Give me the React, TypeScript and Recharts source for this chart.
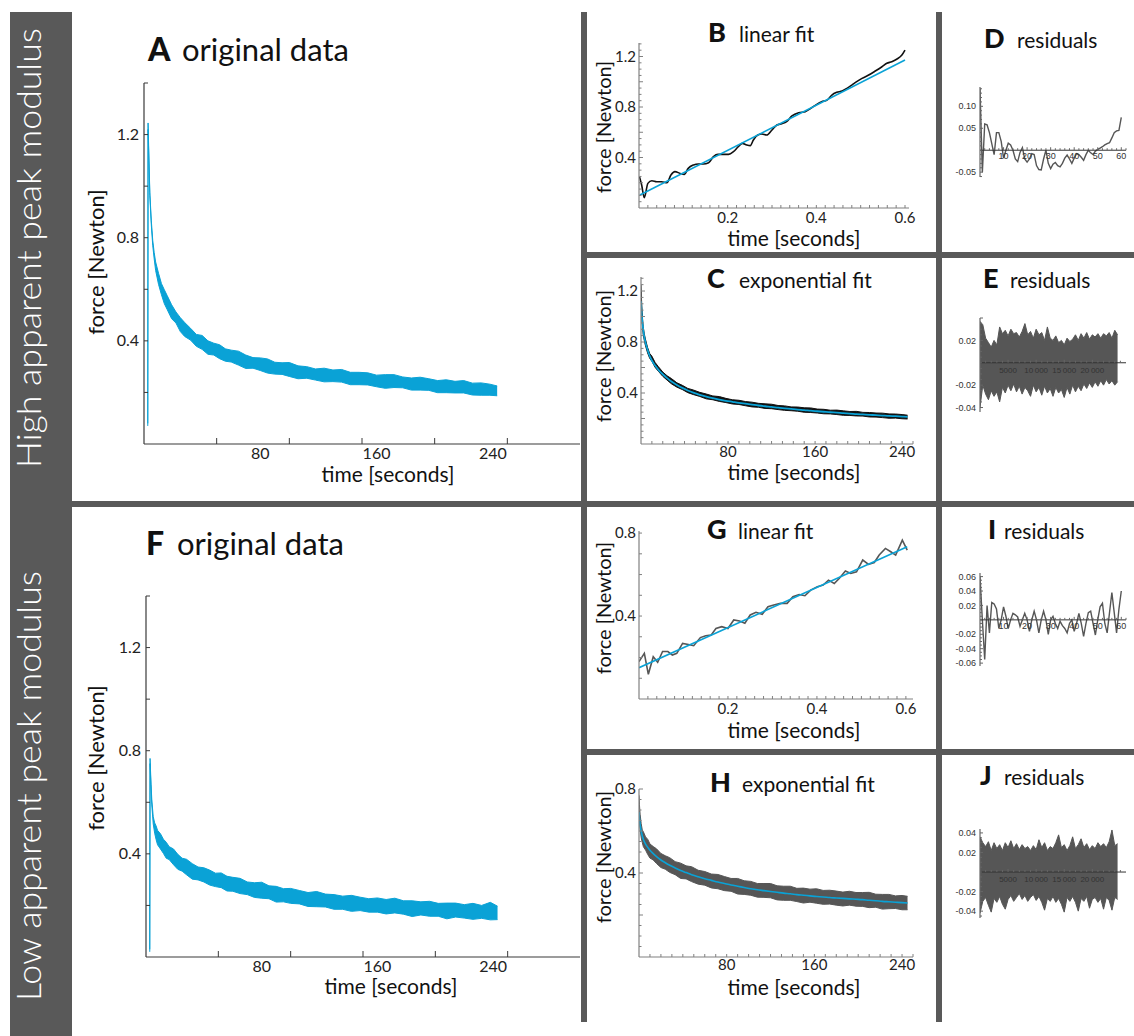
import React from 'react';
import { ComposedChart, Line, Area, XAxis, YAxis, ReferenceLine } from 'recharts';

const CYAN = '#0aa2d6';
const FRAME = '#595959';
const GREY = '#565656';
const INK = '#111';
const FONT = 'Lato, "Open Sans", sans-serif';
const SMALL = '"Liberation Sans", Arial, sans-serif';

// ---------- original data (A, F): trace centre and noise envelope above / below it ----------
const origT = [2.6, 2.8, 3.5, 4, 5, 6, 7, 8, 10, 12, 14, 16, 19, 22, 25, 28, 32, 36, 40, 44, 48, 52, 56, 60, 65, 70, 75, 80, 85, 90, 95, 100, 106, 112, 118, 124, 130, 136, 142, 148, 154, 160, 166, 172, 178, 184, 190, 196, 202, 208, 214, 220, 226, 232, 238, 243];
const aMid = [0.075, 1.235, 1.08, 0.97, 0.86, 0.78, 0.73, 0.69, 0.64, 0.60, 0.57, 0.545, 0.515, 0.49, 0.46, 0.445, 0.425, 0.405, 0.39, 0.378, 0.366, 0.356, 0.348, 0.34, 0.33, 0.322, 0.315, 0.308, 0.302, 0.296, 0.29, 0.286, 0.281, 0.276, 0.271, 0.267, 0.264, 0.26, 0.257, 0.254, 0.25, 0.247, 0.244, 0.241, 0.238, 0.235, 0.232, 0.229, 0.226, 0.223, 0.22, 0.218, 0.215, 0.212, 0.21, 0.205];
const aUp = [0.005, 0.01, 0.006, 0.006, 0.008, 0.01, 0.013, 0.016, 0.022, 0.022, 0.028, 0.03, 0.025, 0.022, 0.03, 0.026, 0.024, 0.02, 0.031, 0.022, 0.025, 0.029, 0.021, 0.024, 0.03, 0.023, 0.02, 0.026, 0.028, 0.021, 0.025, 0.03, 0.022, 0.024, 0.02, 0.027, 0.023, 0.029, 0.021, 0.024, 0.026, 0.02, 0.025, 0.028, 0.022, 0.021, 0.027, 0.024, 0.02, 0.026, 0.023, 0.028, 0.021, 0.025, 0.022, 0.02];
const aDown = [0.005, 0.015, 0.006, 0.006, 0.008, 0.01, 0.012, 0.017, 0.021, 0.021, 0.026, 0.024, 0.029, 0.021, 0.024, 0.028, 0.022, 0.026, 0.023, 0.03, 0.021, 0.025, 0.027, 0.022, 0.024, 0.029, 0.021, 0.023, 0.027, 0.025, 0.02, 0.024, 0.028, 0.021, 0.023, 0.026, 0.022, 0.02, 0.027, 0.024, 0.021, 0.025, 0.028, 0.022, 0.02, 0.026, 0.023, 0.021, 0.027, 0.024, 0.022, 0.02, 0.025, 0.023, 0.021, 0.018];
const fMid = [0.025, 0.76, 0.66, 0.6, 0.53, 0.50, 0.48, 0.465, 0.445, 0.43, 0.415, 0.403, 0.385, 0.37, 0.357, 0.347, 0.335, 0.325, 0.316, 0.308, 0.3, 0.293, 0.287, 0.281, 0.274, 0.267, 0.261, 0.255, 0.25, 0.245, 0.24, 0.236, 0.231, 0.226, 0.222, 0.218, 0.214, 0.211, 0.208, 0.205, 0.202, 0.2, 0.197, 0.195, 0.193, 0.19, 0.188, 0.186, 0.184, 0.182, 0.18, 0.178, 0.176, 0.174, 0.172, 0.17];
const fUp = [0.005, 0.01, 0.008, 0.01, 0.014, 0.02, 0.028, 0.026, 0.033, 0.027, 0.03, 0.025, 0.034, 0.028, 0.026, 0.032, 0.027, 0.024, 0.03, 0.029, 0.025, 0.033, 0.026, 0.028, 0.031, 0.024, 0.027, 0.035, 0.026, 0.029, 0.025, 0.03, 0.027, 0.024, 0.032, 0.026, 0.028, 0.025, 0.031, 0.027, 0.024, 0.029, 0.026, 0.033, 0.025, 0.028, 0.026, 0.03, 0.024, 0.027, 0.029, 0.025, 0.032, 0.026, 0.04, 0.027];
const fDown = [0.005, 0.01, 0.008, 0.01, 0.014, 0.02, 0.025, 0.03, 0.026, 0.028, 0.032, 0.025, 0.027, 0.03, 0.024, 0.028, 0.033, 0.026, 0.025, 0.029, 0.027, 0.024, 0.031, 0.026, 0.028, 0.025, 0.03, 0.027, 0.024, 0.032, 0.026, 0.028, 0.025, 0.03, 0.027, 0.024, 0.029, 0.026, 0.031, 0.025, 0.028, 0.026, 0.03, 0.024, 0.027, 0.033, 0.025, 0.028, 0.026, 0.034, 0.025, 0.027, 0.03, 0.024, 0.028, 0.025];

// ---------- exponential fit panels (C, H) ----------
const fitT = [0, 0.4, 1, 2, 3, 4, 6, 8, 10, 13, 16, 20, 24, 28, 33, 38, 43, 48, 54, 60, 66, 72, 78, 84, 90, 96, 102, 108, 114, 120, 126, 132, 138, 144, 150, 156, 162, 168, 174, 180, 186, 192, 198, 204, 210, 216, 222, 228, 234, 240, 245];
const cMid = [1.225, 1.12, 1.0, 0.89, 0.84, 0.8, 0.736, 0.69, 0.665, 0.62, 0.585, 0.548, 0.515, 0.49, 0.462, 0.44, 0.42, 0.403, 0.387, 0.372, 0.36, 0.35, 0.34, 0.331, 0.323, 0.315, 0.307, 0.302, 0.296, 0.29, 0.285, 0.28, 0.275, 0.27, 0.266, 0.262, 0.257, 0.253, 0.249, 0.246, 0.242, 0.238, 0.235, 0.232, 0.228, 0.225, 0.222, 0.219, 0.216, 0.213, 0.21];
const cUp = [0.025, 0.03, 0.03, 0.03, 0.025, 0.025, 0.022, 0.02, 0.024, 0.019, 0.021, 0.017, 0.02, 0.023, 0.018, 0.02, 0.016, 0.021, 0.018, 0.02, 0.017, 0.022, 0.018, 0.016, 0.02, 0.018, 0.021, 0.017, 0.019, 0.022, 0.017, 0.019, 0.016, 0.02, 0.018, 0.021, 0.017, 0.019, 0.016, 0.02, 0.018, 0.017, 0.021, 0.016, 0.019, 0.018, 0.02, 0.017, 0.019, 0.018, 0.016];
const cDown = [0.025, 0.03, 0.03, 0.03, 0.025, 0.025, 0.02, 0.018, 0.016, 0.019, 0.015, 0.017, 0.014, 0.018, 0.016, 0.013, 0.017, 0.015, 0.014, 0.018, 0.013, 0.016, 0.015, 0.017, 0.013, 0.015, 0.016, 0.014, 0.017, 0.013, 0.015, 0.016, 0.014, 0.013, 0.017, 0.015, 0.014, 0.016, 0.013, 0.015, 0.017, 0.014, 0.015, 0.013, 0.016, 0.014, 0.015, 0.017, 0.013, 0.015, 0.014];
const cFit = [1.12, 1.05, 0.98, 0.9, 0.84, 0.8, 0.74, 0.69, 0.655, 0.615, 0.582, 0.547, 0.517, 0.49, 0.463, 0.44, 0.42, 0.403, 0.386, 0.372, 0.36, 0.349, 0.339, 0.331, 0.323, 0.316, 0.309, 0.302, 0.296, 0.291, 0.285, 0.28, 0.275, 0.27, 0.266, 0.261, 0.257, 0.253, 0.249, 0.246, 0.242, 0.239, 0.235, 0.232, 0.229, 0.226, 0.223, 0.22, 0.218, 0.215, 0.213];
const hMid = [0.72, 0.68, 0.64, 0.6, 0.575, 0.56, 0.54, 0.522, 0.508, 0.492, 0.478, 0.462, 0.449, 0.437, 0.424, 0.412, 0.402, 0.392, 0.382, 0.373, 0.365, 0.357, 0.35, 0.343, 0.337, 0.331, 0.325, 0.32, 0.316, 0.312, 0.308, 0.304, 0.301, 0.297, 0.294, 0.291, 0.288, 0.286, 0.283, 0.281, 0.279, 0.277, 0.275, 0.273, 0.27, 0.268, 0.265, 0.263, 0.261, 0.259, 0.257];
const hUp = [0.05, 0.045, 0.04, 0.035, 0.03, 0.036, 0.032, 0.038, 0.03, 0.034, 0.037, 0.031, 0.033, 0.036, 0.03, 0.035, 0.032, 0.038, 0.031, 0.034, 0.03, 0.036, 0.033, 0.031, 0.037, 0.032, 0.035, 0.03, 0.034, 0.038, 0.031, 0.033, 0.036, 0.03, 0.034, 0.032, 0.037, 0.031, 0.035, 0.033, 0.03, 0.036, 0.032, 0.034, 0.038, 0.031, 0.033, 0.035, 0.03, 0.034, 0.032];
const hDown = [0.02, 0.025, 0.03, 0.032, 0.03, 0.035, 0.031, 0.034, 0.037, 0.03, 0.033, 0.036, 0.031, 0.034, 0.032, 0.038, 0.03, 0.033, 0.035, 0.031, 0.036, 0.032, 0.034, 0.03, 0.037, 0.033, 0.031, 0.035, 0.032, 0.03, 0.036, 0.034, 0.031, 0.033, 0.037, 0.03, 0.032, 0.035, 0.031, 0.034, 0.036, 0.03, 0.033, 0.032, 0.035, 0.031, 0.037, 0.033, 0.03, 0.034, 0.032];
const hFit = [0.69, 0.66, 0.63, 0.6, 0.576, 0.56, 0.538, 0.522, 0.508, 0.492, 0.478, 0.462, 0.449, 0.437, 0.424, 0.412, 0.402, 0.392, 0.382, 0.373, 0.365, 0.357, 0.35, 0.343, 0.337, 0.331, 0.325, 0.32, 0.316, 0.312, 0.308, 0.304, 0.301, 0.297, 0.294, 0.291, 0.288, 0.286, 0.283, 0.281, 0.279, 0.277, 0.275, 0.273, 0.27, 0.268, 0.265, 0.263, 0.261, 0.259, 0.257];

// ---------- linear fit panels (B, G) ----------
const bT = [0.001, 0.006, 0.012, 0.02, 0.029, 0.04, 0.051, 0.063, 0.072, 0.081, 0.093, 0.102, 0.111, 0.123, 0.134, 0.145, 0.157, 0.168, 0.178, 0.19, 0.202, 0.213, 0.224, 0.233, 0.243, 0.251, 0.258, 0.268, 0.277, 0.288, 0.3, 0.311, 0.322, 0.333, 0.345, 0.36, 0.375, 0.39, 0.401, 0.412, 0.424, 0.435, 0.446, 0.458, 0.469, 0.48, 0.491, 0.503, 0.518, 0.533, 0.548, 0.559, 0.57, 0.582, 0.593, 0.6];
const bForce = [0.248, 0.182, 0.082, 0.195, 0.216, 0.208, 0.208, 0.2, 0.261, 0.288, 0.274, 0.266, 0.314, 0.341, 0.349, 0.349, 0.359, 0.407, 0.425, 0.425, 0.425, 0.446, 0.486, 0.512, 0.499, 0.494, 0.539, 0.578, 0.586, 0.578, 0.618, 0.657, 0.668, 0.684, 0.729, 0.755, 0.763, 0.795, 0.821, 0.842, 0.855, 0.895, 0.916, 0.927, 0.948, 0.974, 1.001, 1.027, 1.053, 1.085, 1.119, 1.146, 1.159, 1.18, 1.212, 1.251];
const bFitT = [0.002, 0.6];
const bFit = [0.103, 1.172];
const gT = [0, 0.012, 0.021, 0.032, 0.042, 0.053, 0.065, 0.075, 0.085, 0.098, 0.111, 0.123, 0.138, 0.15, 0.162, 0.173, 0.186, 0.2, 0.213, 0.226, 0.238, 0.25, 0.263, 0.277, 0.29, 0.303, 0.318, 0.333, 0.346, 0.36, 0.373, 0.386, 0.401, 0.414, 0.426, 0.439, 0.45, 0.464, 0.476, 0.489, 0.503, 0.516, 0.529, 0.54, 0.554, 0.566, 0.577, 0.592, 0.603];
const gForce = [0.18, 0.22, 0.119, 0.204, 0.177, 0.229, 0.229, 0.212, 0.22, 0.268, 0.263, 0.257, 0.296, 0.305, 0.308, 0.34, 0.349, 0.34, 0.381, 0.376, 0.365, 0.405, 0.418, 0.408, 0.445, 0.453, 0.461, 0.461, 0.493, 0.504, 0.498, 0.525, 0.541, 0.549, 0.573, 0.557, 0.581, 0.617, 0.605, 0.613, 0.67, 0.649, 0.658, 0.694, 0.726, 0.71, 0.694, 0.766, 0.718];
const gFitT = [0, 0.603];
const gFit = [0.151, 0.734];

// ---------- residuals of the linear fits (D, I) ----------
const residT = [0, 1, 2, 3, 4, 5, 6, 7, 8, 9, 10, 11, 12, 13, 14, 15, 16, 17, 18, 19, 20, 21, 22, 23, 24, 25, 26, 27, 28, 29, 30, 31, 32, 33, 34, 35, 36, 37, 38, 39, 40, 41, 42, 43, 44, 45, 46, 47, 48, 49, 50, 51, 52, 53, 54, 55, 56, 57, 58, 59, 60];
const dRes = [0.14, -0.05, 0.06, 0.058, 0.04, 0.015, -0.01, 0.04, 0.04, 0.02, -0.018, 0.0, 0.016, 0.012, 0.0, -0.02, -0.026, -0.005, 0.006, -0.02, -0.027, -0.02, -0.008, -0.01, -0.035, -0.044, -0.045, -0.02, 0.0, -0.03, -0.042, -0.032, -0.028, -0.035, -0.038, -0.03, -0.018, -0.011, -0.02, -0.03, -0.018, -0.008, -0.01, -0.016, -0.023, -0.01, 0.0, -0.006, -0.01, -0.002, 0.002, 0.005, 0.008, 0.012, 0.015, 0.017, 0.028, 0.04, 0.044, 0.045, 0.075];
const iRes = [0.06, 0.0, -0.055, 0.02, -0.018, 0.024, 0.022, 0.015, -0.012, 0.0, 0.018, 0.005, -0.012, 0.0, 0.009, 0.007, 0.004, -0.009, 0.0, 0.009, 0.0, -0.016, 0.0, 0.012, 0.0, -0.018, 0.0, 0.012, 0.0, -0.02, 0.0, 0.005, -0.005, -0.012, -0.002, -0.008, -0.012, -0.018, -0.005, 0.0, -0.016, -0.005, 0.009, -0.005, -0.023, -0.005, 0.01, 0.012, -0.005, -0.021, 0.0, 0.018, 0.023, -0.005, -0.018, 0.01, 0.038, 0.01, -0.018, 0.015, 0.04];

// ---------- residuals of the exponential fits (E, J), envelope per sample block ----------
const sampleIdx = [0, 500, 1000, 1500, 2000, 2500, 3000, 3500, 4000, 4500, 5000, 5500, 6000, 6500, 7000, 7500, 8000, 8500, 9000, 9500, 10000, 10500, 11000, 11500, 12000, 12500, 13000, 13500, 14000, 14500, 15000, 15500, 16000, 16500, 17000, 17500, 18000, 18500, 19000, 19500, 20000, 20500, 21000, 21500, 22000, 22500, 23000, 23500, 24000, 24500];
const eHi = [0.037, 0.034, 0.022, 0.018, 0.014, 0.02, 0.016, 0.032, 0.026, 0.029, 0.024, 0.03, 0.026, 0.027, 0.023, 0.028, 0.035, 0.025, 0.028, 0.022, 0.03, 0.025, 0.027, 0.02, 0.032, 0.022, 0.02, 0.024, 0.018, 0.02, 0.016, 0.022, 0.019, 0.021, 0.025, 0.02, 0.026, 0.022, 0.027, 0.021, 0.025, 0.023, 0.026, 0.022, 0.026, 0.024, 0.027, 0.022, 0.029, 0.025];
const eLo = [-0.04, -0.02, -0.028, -0.033, -0.025, -0.03, -0.026, -0.035, -0.022, -0.027, -0.02, -0.025, -0.019, -0.026, -0.021, -0.028, -0.022, -0.025, -0.03, -0.02, -0.026, -0.022, -0.029, -0.021, -0.027, -0.023, -0.03, -0.022, -0.027, -0.024, -0.031, -0.022, -0.028, -0.02, -0.026, -0.021, -0.025, -0.019, -0.023, -0.018, -0.022, -0.017, -0.021, -0.016, -0.02, -0.015, -0.019, -0.016, -0.02, -0.017];
const jHi = [0.036, 0.03, 0.026, 0.031, 0.022, 0.03, 0.024, 0.028, 0.022, 0.03, 0.025, 0.032, 0.024, 0.029, 0.023, 0.028, 0.024, 0.026, 0.022, 0.027, 0.023, 0.033, 0.025, 0.03, 0.022, 0.026, 0.024, 0.03, 0.038, 0.025, 0.028, 0.022, 0.027, 0.036, 0.024, 0.028, 0.034, 0.025, 0.029, 0.023, 0.027, 0.024, 0.03, 0.026, 0.029, 0.025, 0.031, 0.043, 0.027, 0.029];
const jLo = [-0.042, -0.03, -0.026, -0.034, -0.041, -0.027, -0.031, -0.025, -0.033, -0.038, -0.028, -0.024, -0.03, -0.026, -0.022, -0.028, -0.024, -0.03, -0.026, -0.023, -0.029, -0.025, -0.031, -0.039, -0.027, -0.03, -0.025, -0.031, -0.027, -0.033, -0.041, -0.026, -0.03, -0.025, -0.031, -0.04, -0.027, -0.03, -0.025, -0.037, -0.028, -0.026, -0.031, -0.027, -0.038, -0.026, -0.029, -0.039, -0.026, -0.028];

// tick labels
const secLabels = [80, 160, 240];
const linLabels = [0.2, 0.4, 0.6];
const forceLabels = [0.4, 0.8, 1.2];
const lowForceLabels = [0.4, 0.8];
const indexLabels = [10, 20, 30, 40, 50, 60];
const sampleLabels = [5000, 10000, 15000, 20000];

const lineRows = (ts: number[], vs: number[]) => ts.map((t, i) => ({ t, v: vs[i] }));
const bandRows = (ts: number[], lo: number[], hi: number[]) => ts.map((t, i) => ({ t, band: [lo[i], hi[i]] }));
const envRows = (ts: number[], mid: number[], up: number[], down: number[]) =>
  ts.map((t, i) => ({ t, band: [mid[i] - down[i], mid[i] + up[i]] }));

const steps = (from: number, to: number, step: number) => {
  const out: number[] = [];
  for (let i = 0; from + i * step <= to + step / 1000; i++) out.push(+(from + i * step).toFixed(6));
  return out;
};
const has = (arr: number[] | undefined, v: number) => !!arr && arr.some((a) => Math.abs(a - v) < 1e-7);

type AxisSpec = {
  marks: number[];
  majors?: number[];
  labels: number[];
  fmt: (v: number) => string;
  len: number;
  majorLen?: number;
  font: number;
  off: number;
  family: string;
  color: string;
  ink: string;
};

const tickList = (s: AxisSpec) => Array.from(new Set([...s.marks, ...s.labels])).sort((a, b) => a - b);

const bottomTick = (s: AxisSpec, shift: number) => (p: any) => {
  const v = p.payload.value;
  const y0 = p.y - shift;
  const L = has(s.majors, v) ? s.majorLen ?? s.len : s.len;
  return (
    <g>
      {has(s.marks, v) && <line x1={p.x} x2={p.x} y1={y0} y2={y0 - L} stroke={s.color} strokeWidth={1} />}
      {has(s.labels, v) && (
        <text x={p.x} y={y0 + s.off} textAnchor="middle" fontSize={s.font} fontFamily={s.family} fill={s.ink}>
          {s.fmt(v)}
        </text>
      )}
    </g>
  );
};

const leftTick = (s: AxisSpec) => (p: any) => {
  const v = p.payload.value;
  const L = has(s.majors, v) ? s.majorLen ?? s.len : s.len;
  return (
    <g>
      {has(s.marks, v) && <line x1={p.x} x2={p.x + L} y1={p.y} y2={p.y} stroke={s.color} strokeWidth={1} />}
      {has(s.labels, v) && (
        <text x={p.x - s.off} y={p.y + s.font * 0.35} textAnchor="end" fontSize={s.font} fontFamily={s.family} fill={s.ink}>
          {s.fmt(v)}
        </text>
      )}
    </g>
  );
};

const one = (v: number) => v.toFixed(1);
const two = (v: number) => (v < 0 ? '-' : '') + Math.abs(v).toFixed(2);
const big = (v: number) => (v >= 10000 ? String(v).slice(0, 2) + '\u2009' + String(v).slice(2) : String(v));

const AX_DARK = '#3a3a3a';
const AX_MID = '#808080';

const origX: AxisSpec = { marks: [50, 100, 150, 200, 250], labels: secLabels, fmt: String, len: 6, font: 16, off: 15, family: FONT, color: AX_DARK, ink: '#222' };
const origY: AxisSpec = { marks: steps(0.2, 1.4, 0.2), labels: forceLabels, fmt: one, len: 4, font: 16, off: 5, family: FONT, color: AX_DARK, ink: '#222' };
const linX: AxisSpec = { marks: steps(0.02, 0.6, 0.02), labels: linLabels, fmt: one, len: 3, font: 15, off: 15, family: FONT, color: AX_MID, ink: '#222' };
const bY: AxisSpec = { marks: steps(0.05, 1.3, 0.05), majors: steps(0.2, 1.2, 0.2), labels: forceLabels, fmt: one, len: 2.5, majorLen: 4, font: 15, off: 3, family: FONT, color: AX_MID, ink: '#222' };
const secX: AxisSpec = { marks: steps(10, 250, 10), labels: secLabels, fmt: String, len: 3, font: 15, off: 13, family: FONT, color: AX_MID, ink: '#222' };
const gY: AxisSpec = { marks: steps(0.1, 0.8, 0.1), labels: lowForceLabels, fmt: one, len: 3, font: 15, off: 3, family: FONT, color: AX_MID, ink: '#222' };
const hY: AxisSpec = { marks: steps(0.05, 0.8, 0.05), majors: steps(0.2, 0.8, 0.2), labels: lowForceLabels, fmt: one, len: 2.5, majorLen: 4, font: 15, off: 3, family: FONT, color: AX_MID, ink: '#222' };
const idxX: AxisSpec = { marks: steps(2, 62, 2), majors: indexLabels, labels: indexLabels, fmt: String, len: 2, majorLen: 3, font: 9, off: 9, family: SMALL, color: '#666', ink: '#333' };
const dY: AxisSpec = { marks: steps(-0.06, 0.14, 0.01), majors: [-0.05, 0.05, 0.1], labels: [-0.05, 0.05, 0.1], fmt: two, len: 2, majorLen: 3, font: 9, off: 4, family: SMALL, color: '#666', ink: '#333' };
const smpX: AxisSpec = { marks: steps(1000, 25000, 1000), majors: sampleLabels, labels: sampleLabels, fmt: big, len: 2, majorLen: 3, font: 8, off: 10, family: SMALL, color: '#666', ink: '#333' };
const eY: AxisSpec = { marks: steps(-0.04, 0.04, 0.005), majors: [-0.04, -0.02, 0.02, 0.04], labels: [0.02, -0.02, -0.04], fmt: two, len: 2, majorLen: 3, font: 9, off: 4, family: SMALL, color: '#666', ink: '#333' };
const iY: AxisSpec = { marks: steps(-0.06, 0.06, 0.005), majors: [-0.06, -0.04, -0.02, 0.02, 0.04, 0.06], labels: [-0.06, -0.04, -0.02, 0.02, 0.04, 0.06], fmt: two, len: 2, majorLen: 3, font: 9, off: 4, family: SMALL, color: '#666', ink: '#333' };
const jY: AxisSpec = { marks: steps(-0.045, 0.04, 0.005), majors: [-0.04, -0.02, 0.02, 0.04], labels: [0.04, 0.02, -0.02, -0.04], fmt: two, len: 2, majorLen: 3, font: 9, off: 4, family: SMALL, color: '#666', ink: '#333' };

type Box = { x: number; y: number; w: number; h: number };
const PAD = 44;
const AXW = 30;

const Panel = ({ box, xDom, yDom, xs, ys, mid, children }: { box: Box; xDom: number[]; yDom: number[]; xs: AxisSpec; ys: AxisSpec; mid?: boolean; children: React.ReactNode }) => {
  const shift = mid ? (box.h * (0 - yDom[0])) / (yDom[1] - yDom[0]) : 0;
  return (
    <div style={{ position: 'absolute', left: box.x - PAD, top: box.y - PAD }}>
      <ComposedChart width={box.w + 2 * PAD} height={box.h + 2 * PAD} margin={{ top: PAD, right: PAD, bottom: PAD - AXW, left: PAD - AXW }}>
        <XAxis dataKey="t" type="number" domain={xDom} allowDataOverflow ticks={tickList(xs)} interval={0} height={AXW} tickSize={0} tickMargin={0} tickLine={false} axisLine={mid ? false : { stroke: xs.color, strokeWidth: 1.2 }} tick={bottomTick(xs, shift)} />
        <YAxis type="number" domain={yDom} allowDataOverflow ticks={tickList(ys)} interval={0} width={AXW} tickSize={0} tickMargin={0} tickLine={false} axisLine={{ stroke: ys.color, strokeWidth: 1.2 }} tick={leftTick(ys)} />
        {children}
        {mid && <ReferenceLine y={0} stroke="#333" strokeWidth={1} />}
      </ComposedChart>
    </div>
  );
};

const Band = ({ rows, color }: { rows: any[]; color: string }) => (
  <Area data={rows} dataKey="band" type="linear" stroke={color} strokeWidth={1} fill={color} fillOpacity={1} dot={false} activeDot={false} isAnimationActive={false} />
);
const Trace = ({ rows, color, w, smooth }: { rows: any[]; color: string; w: number; smooth?: boolean }) => (
  <Line data={rows} dataKey="v" type={smooth ? 'monotone' : 'linear'} stroke={color} strokeWidth={w} dot={false} activeDot={false} isAnimationActive={false} />
);

const Title = ({ x, tx, y, letter, text, big: large }: { x: number; tx: number; y: number; letter: string; text: string; big?: boolean }) => (
  <g fontFamily={FONT} fill="#111">
    <text x={x} y={y} fontSize={large ? 32 : 27} fontWeight={900}>{letter}</text>
    <text x={tx} y={y} fontSize={large ? 31 : 21}>{text}</text>
  </g>
);
const YTitle = ({ x, y, size }: { x: number; y: number; size: number }) => (
  <text x={x} y={y} transform={`rotate(-90 ${x} ${y})`} textAnchor="middle" fontFamily={FONT} fontSize={size} fill="#111">force [Newton]</text>
);
const XTitle = ({ x, y, size }: { x: number; y: number; size: number }) => (
  <text x={x} y={y} textAnchor="middle" fontFamily={FONT} fontSize={size} fill="#111">time [seconds]</text>
);

const App = () => (
  <div style={{ position: 'absolute', left: 0, top: 0, width: 1134, height: 1036, background: '#fff', overflow: 'hidden' }}>
    {/* A */}
    <Panel box={{ x: 144, y: 83, w: 436, h: 361 }} xDom={[0, 300]} yDom={[0, 1.4]} xs={origX} ys={origY}>
      <Band rows={envRows(origT, aMid, aUp, aDown)} color={CYAN} />
    </Panel>
    {/* F */}
    <Panel box={{ x: 146, y: 596, w: 434, h: 361 }} xDom={[0, 300]} yDom={[0, 1.4]} xs={origX} ys={origY}>
      <Band rows={envRows(origT, fMid, fUp, fDown)} color={CYAN} />
    </Panel>
    {/* B */}
    <Panel box={{ x: 639, y: 43, w: 270, h: 165 }} xDom={[0, 0.609]} yDom={[0, 1.307]} xs={linX} ys={bY}>
      <Trace rows={lineRows(bT, bForce)} color={INK} w={1.6} smooth />
      <Trace rows={lineRows(bFitT, bFit)} color={CYAN} w={1.6} />
    </Panel>
    {/* C */}
    <Panel box={{ x: 641, y: 277, w: 272, h: 167 }} xDom={[0, 250]} yDom={[0, 1.31]} xs={secX} ys={bY}>
      <Band rows={envRows(fitT, cMid, cUp, cDown)} color={INK} />
      <Trace rows={lineRows(fitT, cFit)} color={CYAN} w={1.8} smooth />
    </Panel>
    {/* G */}
    <Panel box={{ x: 639, y: 531, w: 274, h: 168 }} xDom={[0, 0.616]} yDom={[0, 0.81]} xs={linX} ys={gY}>
      <Trace rows={lineRows(gT, gForce)} color={GREY} w={1.6} />
      <Trace rows={lineRows(gFitT, gFit)} color={CYAN} w={1.6} />
    </Panel>
    {/* H */}
    <Panel box={{ x: 639, y: 789, w: 274, h: 168 }} xDom={[0, 250]} yDom={[0, 0.8]} xs={secX} ys={hY}>
      <Band rows={envRows(fitT, hMid, hUp, hDown)} color={GREY} />
      <Trace rows={lineRows(fitT, hFit)} color={CYAN} w={1.6} smooth />
    </Panel>
    {/* D */}
    <Panel box={{ x: 980, y: 87, w: 146, h: 90 }} xDom={[0, 62]} yDom={[-0.061, 0.144]} xs={idxX} ys={dY} mid>
      <Trace rows={lineRows(residT, dRes)} color={GREY} w={1.4} />
    </Panel>
    {/* E */}
    <Panel box={{ x: 980, y: 318, w: 146, h: 94 }} xDom={[0, 26000]} yDom={[-0.044, 0.04]} xs={smpX} ys={eY} mid>
      <Band rows={bandRows(sampleIdx, eLo, eHi)} color={GREY} />
    </Panel>
    {/* I */}
    <Panel box={{ x: 980, y: 573, w: 146, h: 93 }} xDom={[0, 62]} yDom={[-0.064, 0.065]} xs={idxX} ys={iY} mid>
      <Trace rows={lineRows(residT, iRes)} color={GREY} w={1.4} />
    </Panel>
    {/* J */}
    <Panel box={{ x: 980, y: 829, w: 146, h: 89 }} xDom={[0, 26000]} yDom={[-0.047, 0.044]} xs={smpX} ys={jY} mid>
      <Band rows={bandRows(sampleIdx, jLo, jHi)} color={GREY} />
    </Panel>

    <svg width={1134} height={1036} style={{ position: 'absolute', left: 0, top: 0, pointerEvents: 'none' }}>
      {/* side band */}
      <rect x={10} y={12} width={62} height={1024} fill={FRAME} />
      <text x={41} y={248} transform="rotate(-90 41 248)" textAnchor="middle" fontFamily={FONT} fontWeight={300} fontSize={34} fill="#fff" textLength={440} lengthAdjust="spacingAndGlyphs">High apparent peak modulus</text>
      <text x={41} y={786} transform="rotate(-90 41 786)" textAnchor="middle" fontFamily={FONT} fontWeight={300} fontSize={34} fill="#fff" textLength={430} lengthAdjust="spacingAndGlyphs">Low apparent peak modulus</text>

      {/* dividers */}
      <rect x={72} y={501} width={1062} height={6} fill={FRAME} />
      <rect x={581} y={12} width={6} height={1010} fill={FRAME} />
      <rect x={936} y={12} width={6} height={1010} fill={FRAME} />
      <rect x={587} y={252} width={547} height={6} fill={FRAME} />
      <rect x={587} y={749} width={547} height={6} fill={FRAME} />

      {/* panel titles */}
      <Title x={148} tx={182} y={61} letter="A" text="original data" big />
      <Title x={146} tx={177} y={555} letter="F" text="original data" big />
      <Title x={708} tx={739} y={42} letter="B" text="linear fit" />
      <Title x={707} tx={739} y={288} letter="C" text="exponential fit" />
      <Title x={707} tx={738} y={539} letter="G" text="linear fit" />
      <Title x={710} tx={742} y={792} letter="H" text="exponential fit" />
      <Title x={984} tx={1017} y={48} letter="D" text="residuals" />
      <Title x={983} tx={1010} y={288} letter="E" text="residuals" />
      <Title x={988} tx={1004} y={539} letter="I" text="residuals" />
      <Title x={980} tx={1004} y={785} letter="J" text="residuals" />

      {/* axis titles */}
      <YTitle x={104} y={262} size={22} />
      <XTitle x={388} y={482} size={21} />
      <YTitle x={104} y={758} size={22} />
      <XTitle x={391} y={994} size={21} />
      <YTitle x={611} y={127} size={20} />
      <XTitle x={794} y={246} size={21} />
      <YTitle x={611} y={356} size={20} />
      <XTitle x={794} y={480} size={21} />
      <YTitle x={611} y={608} size={20} />
      <XTitle x={794} y={738} size={21} />
      <YTitle x={611} y={857} size={20} />
      <XTitle x={794} y={995} size={21} />
    </svg>
  </div>
);

export default App;
